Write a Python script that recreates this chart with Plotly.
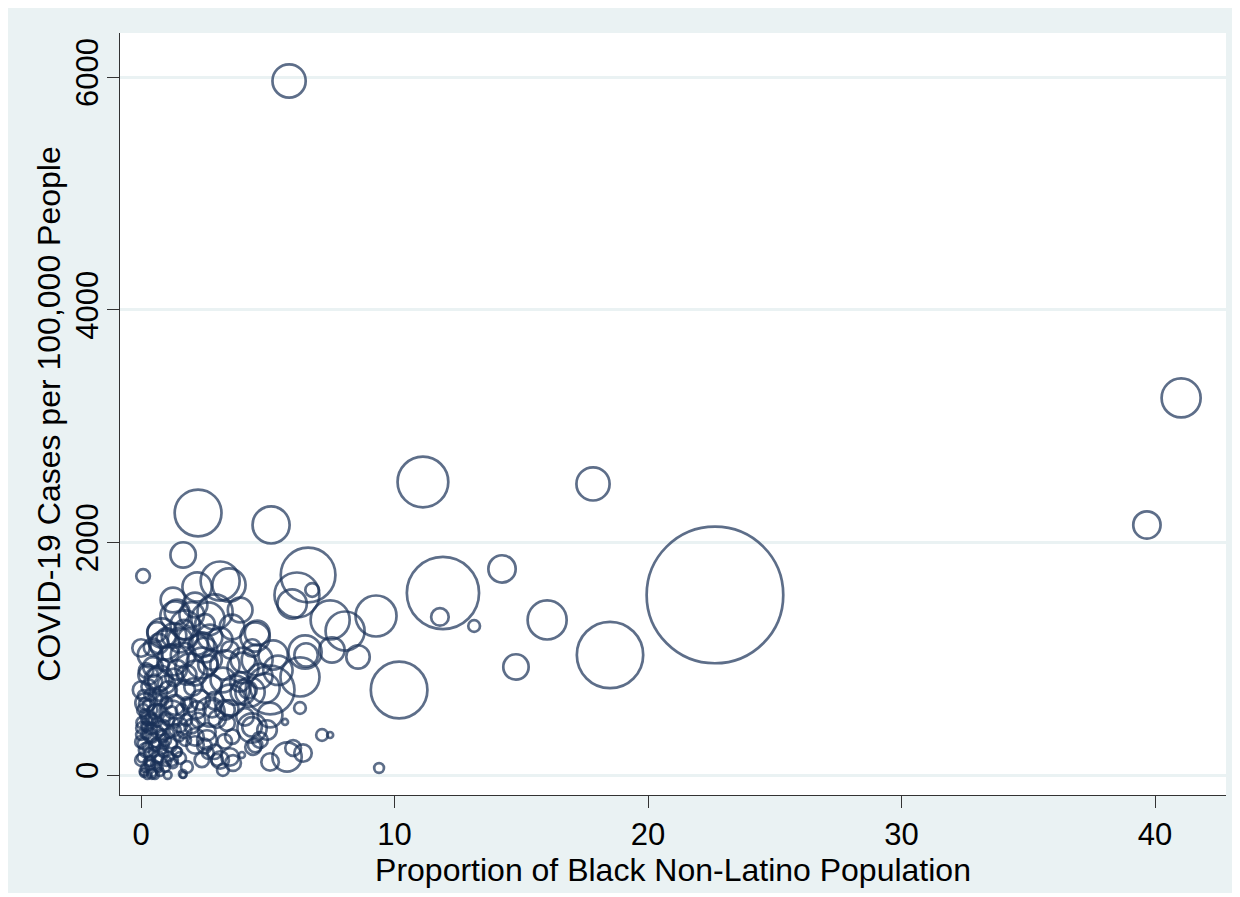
import plotly.graph_objects as go

# Proportion of Black Non-Latino population (%)
black_pct = [
    5.84, 22.64, 41.03, 39.68, 17.83, 11.12, 18.50, 11.91, 16.02, 14.24,
    14.79, 10.18, 11.79, 13.14, 9.39, 2.25, 5.13, 1.66, 0.08, 6.59,
    6.15, 5.96, 6.75, 7.46, 8.05, 9.27, 7.53, 8.56, 6.47, 6.51,
    2.21, 3.12, 3.47, 1.34, 1.42, 2.52, 2.64, 2.92, 3.59, 0.63,
    0.83, 0.00, 1.85, 1.14, 2.52, 2.25, 4.50, 4.38, 3.51, 2.64,
    2.41, 0.87, 0.47, 1.26, 4.02, 4.58, 5.21, 6.27, 5.09, 4.89,
    4.22, 4.02, 4.30, 6.27, 5.68, 4.97, 4.38, 4.50, 5.09, 5.76,
    6.00, 6.39, 7.14, 7.46, 4.58, 5.09, 2.80, 2.72, 3.23, 2.80,
    2.05, 1.93, 1.42, 1.22, 2.72, 3.31, 2.60, 2.13, 3.51, 3.63,
    3.23, 1.66, 0.02, 0.16, 0.63, 1.34, 1.81, 3.51, 4.02, 2.60,
    1.54, 1.81, 3.39, 3.12, 2.64, 2.13, 4.42, 4.38, 4.69, 3.98,
    0.08, 0.28, 0.04, 0.36, 0.00, 0.20, 0.55, 0.75, 0.95, 0.67,
    0.00, 0.36, 0.12, 0.43, 0.75, 1.14, 1.34, 1.07, 0.55, 0.83,
    0.36, 1.54, 1.74, 1.22, 0.95, 0.00, 0.63, 0.24, 0.87, 1.42,
    1.78, 1.93, 2.25, 2.33, 1.74, 1.07, 0.36, 0.95, 1.54, 1.74,
    0.28, 0.75, 1.66, 2.13, 3.31, 3.12, 3.71, 1.26, 2.13, 3.91,
    0.05, 0.15, 0.25, 0.35, 0.45, 0.55, 0.65, 0.05, 0.15, 0.30,
    0.50, 0.70, 0.90, 1.00, 1.10, 1.20, 0.80, 1.00, 1.20, 0.60,
    0.40, 0.20, 0.10, 0.85, 0.95, 1.30, 0.45, 0.25, 0.55, 1.05,
    1.65, 0.70, 0.35, 1.40, 1.50, 1.60, 0.10, 0.30, 0.55, 0.20,
    0.75, 1.00, 1.30, 0.45, 1.00, 1.70, 2.00, 1.30, 0.70, 2.40,
    1.80, 2.20, 2.90, 3.00, 3.30, 2.90, 2.40, 3.50, 3.90, 4.70,
    5.40, 0.10, 0.30, 0.50, 0.70, 0.90, 0.20, 0.40, 0.60, 0.80,
    1.10, 0.15, 0.45, 0.65, 0.25, 1.25, 2.00, 2.50, 3.00, 3.60,
    4.10, 1.70, 2.80,
]

# COVID-19 cases per 100,000 people
cases_per_100k = [
    5968, 1548, 3242, 2150, 2503, 2520, 1032, 1565, 1333, 1772,
    929, 731, 1359, 1281, 60, 2253, 2150, 1892, 1711, 1720,
    1548, 1471, 1591, 1333, 1238, 1367, 1075, 1015, 1058, 1032,
    1617, 1668, 1634, 1367, 1402, 1299, 1342, 1402, 1273, 1230,
    1221, 1092, 1178, 1049, 1075, 1118, 1187, 1092, 1075, 946,
    963, 946, 929, 989, 989, 989, 1032, 843, 731, 748,
    731, 920, 714, 576, 456, 387, 413, 258, 112, 155,
    232, 189, 344, 344, 1221, 516, 989, 1187, 817, 774,
    757, 920, 903, 533, 542, 559, 301, 327, 155, 103,
    43, 0, 731, 619, 817, 602, 619, 645, 714, 370,
    146, 69, 447, 129, 189, 258, 241, 404, 301, 172,
    559, 490, 404, 344, 284, 215, 258, 404, 301, 155,
    129, 86, 17, 9, 26, 258, 387, 473, 542, 645,
    688, 430, 301, 129, 69, 344, 456, 413, 198, 198,
    473, 602, 473, 645, 731, 731, 1032, 1118, 1161, 1290,
    860, 834, 1032, 877, 946, 1161, 731, 1505, 1462, 1419,
    150, 60, 240, 180, 320, 90, 370, 450, 520, 600,
    470, 560, 430, 620, 360, 540, 220, 120, 280, 280,
    400, 350, 270, 330, 500, 450, 20, 0, 0, 0,
    10, 60, 120, 200, 330, 560, 680, 760, 800, 900,
    700, 780, 840, 1100, 1180, 1250, 1380, 1200, 1130, 1120,
    860, 560, 640, 480, 290, 200, 130, 570, 800, 850,
    900, 30, 110, 200, 140, 260, 420, 480, 650, 350,
    160, 610, 560, 70, 470, 100, 420, 250, 130, 330,
    500, 380, 570,
]

# Population weight (thousands) used for bubble area
population = [
    580, 9800, 800, 392, 578, 1352, 2312, 2738, 800, 392,
    338, 1682, 162, 72, 50, 1152, 722, 338, 98, 1568,
    1058, 450, 98, 800, 800, 882, 338, 288, 578, 288,
    450, 800, 578, 450, 320, 200, 578, 648, 320, 200,
    450, 160, 200, 160, 320, 200, 450, 160, 160, 200,
    500, 72, 200, 500, 320, 500, 450, 800, 1250, 450,
    160, 500, 450, 72, 8, 200, 200, 110, 160, 450,
    130, 160, 72, 8, 320, 320, 200, 320, 320, 200,
    160, 450, 200, 320, 450, 200, 200, 160, 160, 130,
    72, 18, 160, 200, 320, 200, 72, 500, 320, 160,
    72, 72, 130, 160, 72, 160, 130, 450, 130, 8,
    72, 110, 72, 110, 72, 110, 72, 110, 72, 72,
    72, 50, 32, 50, 32, 110, 72, 72, 110, 72,
    72, 110, 72, 72, 50, 50, 50, 50, 50, 50,
    72, 110, 110, 200, 200, 160, 320, 450, 320, 450,
    200, 320, 320, 320, 450, 320, 450, 320, 320, 320,
    50, 32, 50, 72, 50, 32, 72, 72, 50, 72,
    50, 72, 50, 72, 50, 72, 50, 50, 72, 50,
    72, 50, 72, 72, 50, 50, 32, 32, 32, 32,
    32, 32, 50, 50, 50, 72, 72, 110, 110, 110,
    110, 160, 160, 160, 200, 200, 320, 320, 200, 320,
    200, 160, 160, 160, 110, 110, 110, 160, 200, 320,
    450, 32, 50, 50, 32, 50, 50, 72, 72, 50,
    50, 72, 50, 32, 50, 50, 110, 110, 72, 110,
    160, 110, 160,
]

x_ticks = [0, 10, 20, 30, 40]
y_ticks = [0, 2000, 4000, 6000]

BG = "#EAF2F3"
NAVY = "#1A3158"
FONT = "Liberation Sans, Arial, sans-serif"

fig = go.Figure()
fig.add_trace(go.Scatter(
    x=black_pct,
    y=cases_per_100k,
    mode="markers",
    marker=dict(
        size=population,
        sizemode="area",
        sizeref=1.05,
        sizemin=3,
        color="rgba(0,0,0,0)",
        line=dict(color=NAVY, width=2.7),
    ),
    hoverinfo="x+y",
    showlegend=False,
))

fig.update_layout(
    width=1232,
    height=889,
    margin=dict(l=112, r=14, t=25, b=102),
    paper_bgcolor="white",
    plot_bgcolor="white",
    font=dict(family=FONT, color="#000000", size=31),
    shapes=[
        dict(type="rect", xref="paper", yref="paper",
             x0=-0.10127, x1=1.00904, y0=-0.1286, y1=1.0328,
             fillcolor=BG, line=dict(width=0), layer="below"),
        dict(type="rect", xref="paper", yref="paper",
             x0=0, x1=1, y0=0, y1=1,
             fillcolor="white", line=dict(width=0), layer="below"),
    ],
    xaxis=dict(
        range=[-0.83, 42.8],
        tickvals=x_ticks,
        ticktext=[str(v) for v in x_ticks],
        ticks="outside",
        ticklen=12,
        tickwidth=1.3,
        tickcolor="#333333",
        showline=True,
        linecolor="#333333",
        linewidth=1.3,
        showgrid=False,
        zeroline=False,
        tickfont=dict(size=31),
        title=dict(text="Proportion of Black Non-Latino Population",
                   font=dict(size=32), standoff=0),
    ),
    yaxis=dict(
        range=[-172, 6380],
        tickvals=y_ticks,
        ticktext=[str(v) for v in y_ticks],
        tickangle=-90,
        ticks="outside",
        ticklen=12,
        tickwidth=1.3,
        tickcolor="#333333",
        showline=True,
        linecolor="#333333",
        linewidth=1.3,
        showgrid=True,
        gridcolor=BG,
        gridwidth=2.5,
        zeroline=False,
        tickfont=dict(size=31),
        ticklabelstandoff=-4,
        title=dict(text="COVID-19 Cases per 100,000 People",
                   font=dict(size=32), standoff=0),
    ),
)

fig.write_html("out.html")
